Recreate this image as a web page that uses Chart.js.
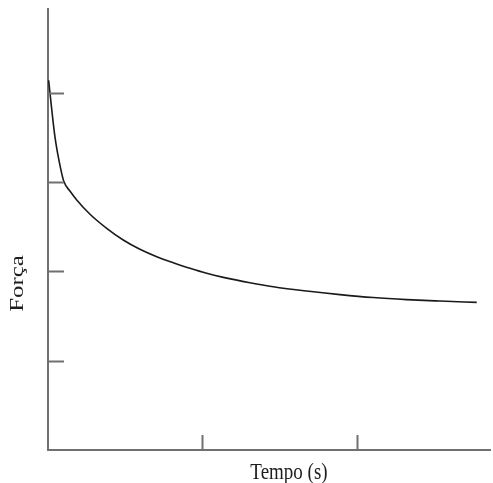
<!DOCTYPE html>
<html>
<head>
<meta charset="utf-8">
<script src="https://cdn.jsdelivr.net/npm/chart.js@4"></script>
<style>
  html, body { margin: 0; padding: 0; background: #fff; }
  canvas { display: block; }
</style>
</head>
<body>
<canvas id="chart" width="493" height="483"></canvas>
<script>
// curve (time and force in tick units, no labels on the axes)
const tempo = [0.004, 0.045, 0.084, 0.104, 0.142, 0.186, 0.272, 0.380, 0.487, 0.595, 0.704,
  0.811, 0.919, 1.027, 1.135, 1.307, 1.458, 1.674, 1.890, 2.105, 2.322, 2.537, 2.775];
const forca = [4.14, 3.507, 3.134, 3.0, 2.90, 2.80, 2.64, 2.482, 2.351, 2.247, 2.164,
  2.097, 2.034, 1.978, 1.933, 1.873, 1.828, 1.780, 1.740, 1.707, 1.684, 1.668, 1.653];
const xTicks = [1, 2];
const yTicks = [1, 2, 3, 4];
const xTitle = 'Tempo (s)';
const yTitle = 'Força';

const axisColor = '#707070';
const textColor = '#1e1e1e';

// inward tick marks and the two axis titles
const axisDecor = {
  id: 'axisDecor',
  afterDraw(chart) {
    const { ctx, scales: { x, y } } = chart;
    ctx.save();
    ctx.strokeStyle = axisColor;
    ctx.lineWidth = 2;
    ctx.beginPath();
    for (const v of yTicks) {
      const py = Math.round(y.getPixelForValue(v)) + 0.5;
      ctx.moveTo(x.left, py);
      ctx.lineTo(x.left + 16, py);
    }
    for (const v of xTicks) {
      const px = Math.round(x.getPixelForValue(v)) + 0.5;
      ctx.moveTo(px, y.bottom);
      ctx.lineTo(px, y.bottom - 15);
    }
    ctx.stroke();

    ctx.fillStyle = textColor;
    ctx.textAlign = 'center';

    ctx.save();
    ctx.translate(289, 479);
    ctx.scale(1, 1.2);
    ctx.font = '19px "Liberation Serif", "DejaVu Serif", serif';
    ctx.textBaseline = 'alphabetic';
    ctx.fillText(xTitle, 0, 0);
    ctx.restore();

    ctx.save();
    ctx.translate(18, 283.5);
    ctx.scale(1, 1.38);
    ctx.rotate(-Math.PI / 2);
    ctx.font = '18px "Liberation Serif", "DejaVu Serif", serif';
    ctx.textBaseline = 'middle';
    ctx.fillText(yTitle, 0, 0);
    ctx.restore();

    ctx.restore();
  }
};

new Chart(document.getElementById('chart'), {
  type: 'line',
  data: {
    datasets: [{
      data: tempo.map((t, i) => ({ x: t, y: forca[i] })),
      borderColor: '#1a1a1a',
      borderWidth: 1.6,
      pointRadius: 0,
      fill: false,
      cubicInterpolationMode: 'monotone'
    }]
  },
  options: {
    responsive: false,
    animation: false,
    layout: { padding: { top: 9, right: 3, left: 0, bottom: 0 } },
    plugins: { legend: { display: false }, tooltip: { enabled: false } },
    scales: {
      x: {
        type: 'linear',
        min: 0,
        max: 2.861,
        grid: { display: false },
        ticks: { display: false },
        border: { display: true, color: axisColor, width: 2 },
        afterFit: (scale) => { scale.height = 33; }
      },
      y: {
        type: 'linear',
        min: 0,
        max: 4.938,
        grid: { display: false },
        ticks: { display: false },
        border: { display: true, color: axisColor, width: 2 },
        afterFit: (scale) => { scale.width = 48; }
      }
    }
  },
  plugins: [axisDecor]
});
</script>
</body>
</html>
